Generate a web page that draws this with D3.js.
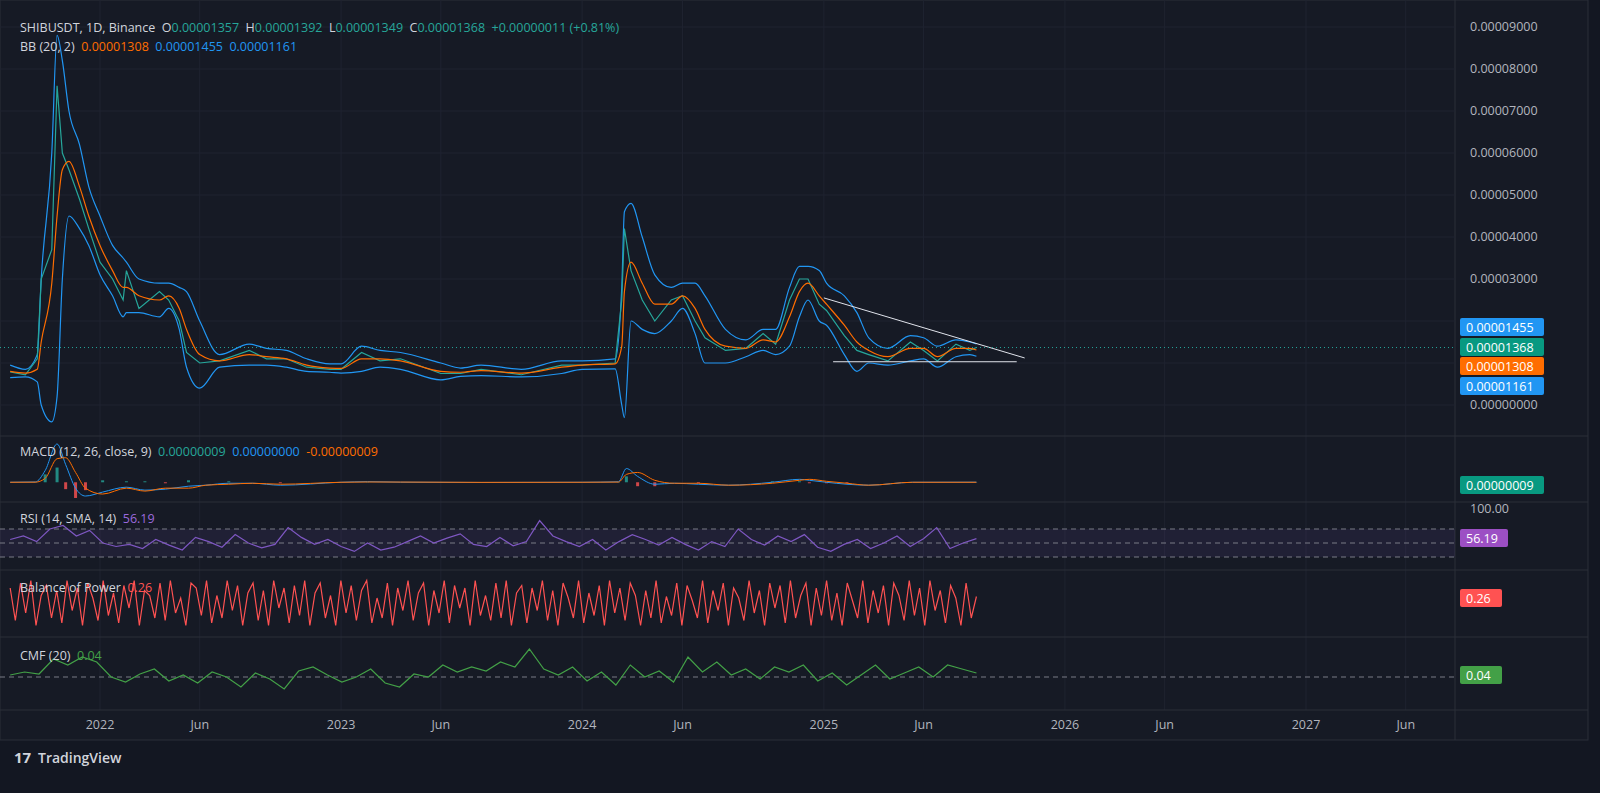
<!DOCTYPE html>
<html><head><meta charset="utf-8">
<script src="https://cdn.jsdelivr.net/npm/d3@7"></script>
<style>
body{margin:0;background:#131722;font-family:"Open Sans",sans-serif;}
text{font-family:"Open Sans",sans-serif;white-space:pre;}
</style></head>
<body><div id="chart"></div>
<script>
const W = 1600, H = 793;
const plotRight = 1455;

// price data (units of 1e-5 USDT)
const dates = ["2021-08-18","2021-09-10","2021-09-28","2021-10-04","2021-10-20","2021-10-28","2021-11-05","2021-11-15","2021-12-01","2021-12-15","2022-01-01","2022-01-20","2022-02-05","2022-02-10","2022-03-01","2022-04-01","2022-04-15","2022-05-01","2022-05-12","2022-06-01","2022-07-01","2022-08-15","2022-09-10","2022-10-10","2022-11-10","2022-12-15","2023-01-01","2023-02-01","2023-03-01","2023-04-01","2023-06-01","2023-07-01","2023-08-01","2023-10-01","2023-12-01","2024-01-01","2024-02-20","2024-03-01","2024-03-05","2024-03-15","2024-04-01","2024-04-20","2024-05-15","2024-06-01","2024-06-20","2024-07-05","2024-08-05","2024-09-05","2024-10-01","2024-10-20","2024-11-10","2024-11-25","2024-12-08","2024-12-25","2025-01-05","2025-02-01","2025-02-20","2025-03-10","2025-04-08","2025-05-12","2025-06-01","2025-06-22","2025-07-20","2025-08-10","2025-08-20"];
const close = [0.79,0.72,1.1,3.0,3.7,7.6,6.0,5.6,4.9,4.2,3.4,3.0,2.5,3.2,2.3,2.7,2.5,2.0,1.25,1.0,1.05,1.3,1.1,1.1,0.9,0.85,0.85,1.25,1.05,1.1,0.75,0.75,0.85,0.72,0.95,0.95,1.0,2.5,4.2,3.2,2.5,2.0,2.5,2.6,2.0,1.6,1.3,1.35,1.7,1.45,2.5,3.0,3.0,2.4,2.25,1.65,1.3,1.2,1.05,1.5,1.3,1.05,1.45,1.3,1.368];
const basis = [0.8,0.76,0.85,1.5,2.9,4.5,5.6,5.8,5.2,4.5,3.8,3.2,2.8,2.8,2.6,2.5,2.6,2.3,1.8,1.2,1.05,1.2,1.15,1.1,0.95,0.88,0.87,1.1,1.1,1.05,0.8,0.78,0.82,0.76,0.9,0.95,0.98,1.4,2.7,3.4,2.9,2.4,2.4,2.6,2.3,1.8,1.4,1.35,1.55,1.5,2.1,2.7,2.9,2.6,2.4,1.9,1.5,1.3,1.15,1.35,1.35,1.15,1.35,1.35,1.308];
const upper = [0.95,0.85,1.2,3.0,6.0,8.8,8.2,7.0,6.2,5.2,4.5,3.8,3.5,3.4,3.0,2.9,2.9,2.8,2.7,2.0,1.2,1.45,1.35,1.3,1.1,0.98,0.98,1.4,1.3,1.25,1.0,0.88,0.95,0.85,1.05,1.05,1.1,2.8,4.6,4.8,4.0,3.1,2.8,2.9,2.9,2.6,1.8,1.55,1.8,1.8,2.8,3.3,3.3,3.2,2.9,2.6,2.2,1.6,1.35,1.65,1.6,1.4,1.55,1.5,1.455];
const lower = [0.65,0.67,0.55,0.0,-0.4,0.2,3.0,4.5,4.2,3.8,3.1,2.6,2.1,2.2,2.2,2.1,2.3,1.8,0.9,0.4,0.9,0.95,0.95,0.9,0.8,0.78,0.76,0.8,0.9,0.85,0.6,0.68,0.7,0.67,0.75,0.85,0.86,0.0,-0.3,2.0,1.8,1.7,2.0,2.3,1.7,1.0,1.0,1.15,1.3,1.2,1.4,2.1,2.5,2.0,1.9,1.2,0.8,1.0,0.95,1.05,1.1,0.9,1.15,1.2,1.161];

// MACD (units 1e-7)
const macdDates = ["2021-08-18","2021-09-25","2021-10-10","2021-10-28","2021-11-10","2021-11-25","2021-12-10","2022-01-05","2022-02-10","2022-03-10","2022-04-10","2022-05-15","2022-06-10","2022-07-15","2022-08-20","2022-10-01","2023-01-01","2023-02-10","2023-04-01","2023-08-01","2024-01-01","2024-02-25","2024-03-08","2024-03-25","2024-04-20","2024-05-20","2024-06-25","2024-08-10","2024-10-15","2024-11-25","2024-12-10","2025-01-05","2025-02-05","2025-03-10","2025-05-15","2025-08-20"];
const macdLine = [0,0.3,12,39,18,-6,-14,-10,-5,-8,-7,-4,-3,-1,-1,-3,0,0.6,0.1,-0.2,0,0.5,14,6,-2,-1,-2,-3,0,3,2,0,-2,-3,0,0.09];
const signalLine = [0,0.1,4,24,25,10,-6,-12,-6,-9,-6,-6,-3,-2,-1,-2,0,0.3,0.2,-0.1,0,0.2,8,10,2,-1,-1,-3,-1,2,3,1,-1,-3,0,0];

// RSI (14)
const rsi = [55,60,52,70,75,60,68,50,45,48,42,55,47,40,58,52,44,62,50,43,48,72,58,48,55,45,38,50,40,44,52,60,50,57,63,48,45,58,46,52,82,60,52,45,55,40,52,62,55,47,58,48,40,52,45,70,55,47,60,52,62,44,38,48,55,42,50,60,45,56,72,42,50,56.19];

// Balance of Power
const bop = [0.6,-0.7,0.8,-0.4,0.9,-0.9,0.3,0.7,-0.6,0.5,-0.8,0.9,-0.3,0.6,-0.9,0.8,0.2,-0.7,0.9,-0.5,0.4,-0.8,0.7,-0.2,0.9,-0.9,0.5,0.3,-0.6,0.8,-0.7,0.9,-0.4,0.2,-0.9,0.8,0.6,-0.5,0.9,-0.8,0.3,-0.6,0.9,-0.3,0.7,-0.9,0.4,0.8,-0.7,0.5,-0.9,0.9,-0.2,0.6,-0.8,0.7,-0.5,0.9,-0.9,0.4,0.8,-0.6,0.3,-0.9,0.9,-0.4,0.7,-0.7,0.5,0.9,-0.8,0.2,-0.6,0.8,-0.9,0.6,-0.3,0.9,-0.7,0.4,0.8,-0.9,0.5,-0.4,0.9,-0.8,0.7,-0.2,0.6,-0.9,0.9,-0.5,0.3,-0.7,0.8,-0.6,0.9,-0.9,0.4,0.7,-0.8,0.6,-0.3,0.9,-0.7,0.5,-0.9,0.8,0.2,-0.6,0.9,-0.8,0.4,-0.5,0.7,-0.9,0.9,-0.4,0.6,-0.7,0.8,0.3,-0.9,0.5,-0.6,0.9,-0.8,0.26,
  -0.5,0.8,-0.9,0.7,0.1,-0.6,0.9,-0.8,0.5,-0.3,0.8,-0.9,0.6,0.2,-0.7,0.9,-0.4,0.5,-0.9,0.8,-0.2,0.7,-0.8,0.9,-0.6,0.3,0.8,-0.9,0.6,-0.5,0.9,-0.7,0.4,-0.9,0.8,0.1,-0.6,0.9,-0.8,0.5,-0.4,0.7,-0.9,0.8,0.3,-0.7,0.9,-0.5,0.6,-0.9,0.9,-0.3,0.5,-0.8,0.7,0.2,-0.9,0.8,-0.6,0.26];

// CMF (20)
const cmf = [0.02,0.05,0.03,0.18,0.12,0.2,0.15,0.0,-0.05,0.03,0.08,-0.04,0.02,-0.06,0.05,0.0,-0.1,0.04,-0.02,-0.12,0.06,0.1,0.02,-0.05,0.0,0.08,-0.06,-0.1,0.03,0.0,0.12,0.05,0.1,0.06,0.15,0.1,0.28,0.08,0.02,0.1,-0.04,0.05,-0.08,0.12,0.0,0.06,-0.05,0.2,0.05,0.15,0.02,0.08,-0.02,0.1,0.05,0.12,-0.04,0.04,-0.08,0.02,0.12,-0.02,0.04,0.1,0.0,0.12,0.08,0.04];

const priceTicks = [0,3,4,5,6,7,8,9];
const timeTicks = [["2022-01-01","2022"],["2022-06-01","Jun"],["2023-01-01","2023"],["2023-06-01","Jun"],["2024-01-01","2024"],["2024-06-01","Jun"],["2025-01-01","2025"],["2025-06-01","Jun"],["2026-01-01","2026"],["2026-06-01","Jun"],["2027-01-01","2027"],["2027-06-01","Jun"]];

const p = d3.timeParse("%Y-%m-%d");
const x = d3.scaleTime().domain([p("2022-01-01"), p("2027-01-01")]).range([100, 1306]);
const start = p("2021-08-18"), end = p("2025-08-20");
const xi = (n) => d3.scaleLinear().domain([0, n - 1]).range([x(start), x(end)]);

const svg = d3.select("#chart").append("svg").attr("width", W).attr("height", H);
svg.append("rect").attr("width", W).attr("height", H).attr("fill", "#131722");
svg.append("rect").attr("x", 0).attr("y", 0).attr("width", 1588).attr("height", 740).attr("fill", "#161a25").attr("stroke", "#2a2e39");

const panes = [[0, 436], [436, 502], [502, 570], [570, 637], [637, 710]];
const grid = svg.append("g");
timeTicks.forEach(t => grid.append("line").attr("x1", x(p(t[0]))).attr("x2", x(p(t[0]))).attr("y1", 0).attr("y2", 710).attr("stroke", "#1f2330"));
panes.forEach(pn => grid.append("line").attr("x1", 0).attr("x2", 1588).attr("y1", pn[1]).attr("y2", pn[1]).attr("stroke", "#2a2e39"));
grid.append("line").attr("x1", plotRight).attr("x2", plotRight).attr("y1", 0).attr("y2", 740).attr("stroke", "#2a2e39");

// main pane
const y = d3.scaleLinear().domain([0, 9]).range([405, 27]);
[0,1,2,3,4,5,6,7,8,9].forEach(v => grid.append("line").attr("x1", 0).attr("x2", plotRight).attr("y1", y(v)).attr("y2", y(v)).attr("stroke", "#1f2330"));
priceTicks.forEach(v => {
  svg.append("text").attr("x", 1470).attr("y", y(v) + 4).attr("fill", "#b2b5be").attr("font-size", 12.5).text((v / 1e5).toFixed(8));
});
const pts = (arr) => arr.map((v, i) => [p(dates[i]), v]);
const line = d3.line().x(d => x(d[0])).y(d => y(d[1])).curve(d3.curveMonotoneX);
svg.append("path").datum(pts(upper)).attr("d", line).attr("fill", "none").attr("stroke", "#2196f3").attr("stroke-width", 1.2);
svg.append("path").datum(pts(lower)).attr("d", line).attr("fill", "none").attr("stroke", "#2196f3").attr("stroke-width", 1.2);
svg.append("path").datum(pts(close)).attr("d", d3.line().x(d => x(d[0])).y(d => y(d[1]))).attr("fill", "none").attr("stroke", "#26a69a").attr("stroke-width", 1.2);
svg.append("path").datum(pts(basis)).attr("d", line).attr("fill", "none").attr("stroke", "#ff6d00").attr("stroke-width", 1.2);

// drawings
svg.append("line").attr("x1", x(p("2025-01-01"))).attr("y1", y(2.55)).attr("x2", x(p("2025-11-01"))).attr("y2", y(1.12)).attr("stroke", "#e0e3eb");
svg.append("line").attr("x1", x(p("2025-01-15"))).attr("y1", y(1.03)).attr("x2", x(p("2025-10-20"))).attr("y2", y(1.03)).attr("stroke", "#e0e3eb");
svg.append("line").attr("x1", 0).attr("x2", plotRight).attr("y1", y(1.368)).attr("y2", y(1.368)).attr("stroke", "#26a69a").attr("stroke-dasharray", "1,3");

const badge = (yy, txt, col, w = 84) => {
  svg.append("rect").attr("x", 1460).attr("y", yy - 9).attr("width", w).attr("height", 18).attr("rx", 2).attr("fill", col);
  svg.append("text").attr("x", 1466).attr("y", yy + 4.5).attr("fill", "#fff").attr("font-size", 12.5).text(txt);
};
badge(327, "0.00001455", "#2196f3");
badge(347, "0.00001368", "#089981");
badge(366, "0.00001308", "#ff6d00");
badge(386, "0.00001161", "#2196f3");

// MACD
const ym = d3.scaleLinear().domain([-15, 40]).range([497, 443]);
const mpts = (arr) => arr.map((v, i) => [p(macdDates[i]), v]);
const hist = macdLine.map((v, i) => [p(macdDates[i]), v - signalLine[i]]);
svg.selectAll(".hist").data(hist).enter().append("rect")
  .attr("x", d => x(d[0]) - 1.5).attr("width", 3)
  .attr("y", d => Math.min(ym(0), ym(d[1]))).attr("height", d => Math.abs(ym(d[1]) - ym(0)))
  .attr("fill", d => d[1] >= 0 ? "#26a69a" : "#ff5252").attr("opacity", 0.8);
const mline = d3.line().x(d => x(d[0])).y(d => ym(d[1])).curve(d3.curveMonotoneX);
svg.append("path").datum(mpts(macdLine)).attr("d", mline).attr("fill", "none").attr("stroke", "#2196f3");
svg.append("path").datum(mpts(signalLine)).attr("d", mline).attr("fill", "none").attr("stroke", "#ff6d00");
badge(485, "0.00000009", "#089981");

// RSI
const yr = d3.scaleLinear().domain([0, 100]).range([578, 508]);
svg.append("rect").attr("x", 0).attr("width", plotRight).attr("y", yr(70)).attr("height", yr(30) - yr(70)).attr("fill", "#7e57c2").attr("opacity", 0.1);
[70, 50, 30].forEach(v => svg.append("line").attr("x1", 0).attr("x2", plotRight).attr("y1", yr(v)).attr("y2", yr(v)).attr("stroke", "#787b86").attr("stroke-dasharray", "5,4"));
const xr = xi(rsi.length);
svg.append("path").datum(rsi).attr("d", d3.line().x((d, i) => xr(i)).y(d => yr(d))).attr("fill", "none").attr("stroke", "#7e57c2").attr("stroke-width", 1.2);
svg.append("text").attr("x", 1470).attr("y", 513).attr("fill", "#b2b5be").attr("font-size", 12.5).text("100.00");
badge(538, "56.19", "#9c4fc4", 48);

// BOP
const yb = d3.scaleLinear().domain([-1, 1]).range([628, 578]);
const xb = xi(bop.length);
svg.append("path").datum(bop).attr("d", d3.line().x((d, i) => xb(i)).y(d => yb(d))).attr("fill", "none").attr("stroke", "#ff5252").attr("stroke-width", 1.2);
badge(598, "0.26", "#ff5252", 42);

// CMF
const yc = d3.scaleLinear().domain([-0.2, 0.3]).range([697, 647]);
svg.append("line").attr("x1", 0).attr("x2", plotRight).attr("y1", yc(0)).attr("y2", yc(0)).attr("stroke", "#787b86").attr("stroke-dasharray", "5,4");
const xc = xi(cmf.length);
svg.append("path").datum(cmf).attr("d", d3.line().x((d, i) => xc(i)).y(d => yc(d))).attr("fill", "none").attr("stroke", "#43a047").attr("stroke-width", 1.2);
badge(675, "0.04", "#43a047", 42);

// legends
const legend = (yy, parts) => {
  const t = svg.append("text").attr("x", 20).attr("y", yy).attr("font-size", 12.5).attr("xml:space", "preserve");
  parts.forEach(pt => t.append("tspan").attr("fill", pt[1]).text(pt[0]));
};
const g = "#26a69a", wt = "#d1d4dc";
legend(32, [["SHIBUSDT, 1D, Binance  ", wt], ["O", wt], ["0.00001357  ", g], ["H", wt], ["0.00001392  ", g], ["L", wt], ["0.00001349  ", g], ["C", wt], ["0.00001368  +0.00000011 (+0.81%)", g]]);
legend(51, [["BB (20, 2)  ", wt], ["0.00001308  ", "#ff6d00"], ["0.00001455  ", "#2196f3"], ["0.00001161", "#2196f3"]]);
legend(456, [["MACD (12, 26, close, 9)  ", wt], ["0.00000009  ", g], ["0.00000000  ", "#2196f3"], ["-0.00000009", "#ff6d00"]]);
legend(523, [["RSI (14, SMA, 14)  ", wt], ["56.19", "#9c6ade"]]);
legend(592, [["Balance of Power  ", wt], ["0.26", "#ff5252"]]);
legend(660, [["CMF (20)  ", wt], ["0.04", "#43a047"]]);

// time axis
timeTicks.forEach(t => svg.append("text").attr("x", x(p(t[0]))).attr("y", 729).attr("text-anchor", "middle").attr("fill", "#b2b5be").attr("font-size", 12.5).text(t[1]));

// footer
svg.append("text").attr("x", 14).attr("y", 763).attr("fill", "#d1d4dc").attr("font-size", 15).attr("font-weight", 700).text("17");
svg.append("text").attr("x", 38).attr("y", 763).attr("fill", "#d1d4dc").attr("font-size", 14).attr("font-weight", 600).text("TradingView");
</script></body></html>
